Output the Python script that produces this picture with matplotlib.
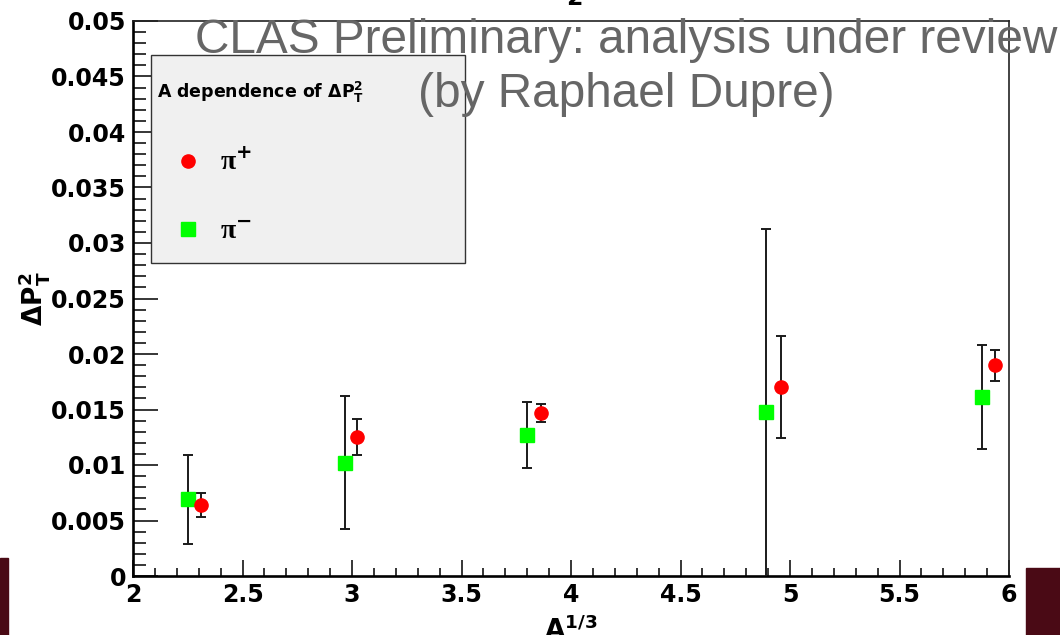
import matplotlib
matplotlib.use("Agg")
import matplotlib.pyplot as plt
from matplotlib.lines import Line2D
from matplotlib.patches import Rectangle
from matplotlib.ticker import MultipleLocator, FuncFormatter

# data
a13_pip = [2.310, 3.023, 3.863, 4.959, 5.936]
dpt2_pip = [0.0064, 0.0125, 0.0147, 0.0170, 0.0190]
err_pip = [0.00104, 0.0016, 0.0008, 0.0046, 0.0014]

a13_pim = [2.251, 2.968, 3.799, 4.890, 5.877]
dpt2_pim = [0.0069, 0.0102, 0.0127, 0.0148, 0.0161]
err_pim = [0.0040, 0.0060, 0.0030, 0.0165, 0.0047]

labels = [r"π$^{\mathbf{+}}$", r"π$^{\mathbf{-}}$"]

plt.rcParams["font.family"] = "DejaVu Sans"
plt.rcParams["font.weight"] = "bold"
plt.rcParams["mathtext.fontset"] = "dejavusans"

W, H = 1060, 635
fig = plt.figure(figsize=(W / 100, H / 100), dpi=100)
L, R, T, B = 133, 1009, 21, 576
ax = fig.add_axes([L / W, 1 - B / H, (R - L) / W, (B - T) / H])

# dark red page decoration in the corners
fig.patches.append(Rectangle((0, 0), 8 / W, (H - 558) / H, transform=fig.transFigure,
                             color="#4a0a15", zorder=0))
fig.patches.append(Rectangle((1026 / W, 0), 34 / W, (H - 568) / H, transform=fig.transFigure,
                             color="#4a0a15", zorder=0))

ax.errorbar(a13_pim, dpt2_pim, yerr=err_pim, fmt="s", color="#00ff00", ms=10,
            ecolor="#1a1a1a", elinewidth=1.4, capsize=3.3, capthick=1.4, zorder=3)
ax.errorbar(a13_pip, dpt2_pip, yerr=err_pip, fmt="o", color="#ff0000", ms=9.5,
            ecolor="#1a1a1a", elinewidth=1.4, capsize=3.3, capthick=1.4, zorder=3)

ax.set_xlim(2, 6)
ax.set_ylim(0, 0.05)

ax.xaxis.set_major_locator(MultipleLocator(0.5))
ax.xaxis.set_minor_locator(MultipleLocator(0.1))
ax.yaxis.set_major_locator(MultipleLocator(0.005))
ax.yaxis.set_minor_locator(MultipleLocator(0.001))
fmt = FuncFormatter(lambda v, p: f"{round(v, 4):g}")
ax.xaxis.set_major_formatter(fmt)
ax.yaxis.set_major_formatter(fmt)

ax.tick_params(axis="both", which="both", direction="in", top=False, right=False,
               width=1.1, color="black", labelsize=17)
ax.tick_params(axis="y", which="major", length=18, pad=5)
ax.tick_params(axis="y", which="minor", length=9.4)
ax.tick_params(axis="x", which="major", length=11.5, pad=5)
ax.tick_params(axis="x", which="minor", length=5.8)

for s in ["left", "bottom"]:
    ax.spines[s].set_linewidth(1.9)
for s in ["top", "right"]:
    ax.spines[s].set_linewidth(1.2)
    ax.spines[s].set_color("#222222")

ax.set_xlabel(r"$\mathbf{A}^{\mathbf{1/3}}$", fontsize=19, labelpad=7)
ax.set_ylabel(r"$\Delta\mathbf{P}_{\mathbf{T}}^{\mathbf{2}}$", fontsize=19)
ax.yaxis.set_label_coords((52 - L) / (R - L), 0.5)

# legend box
ax.add_patch(Rectangle(((151 - L) / (R - L), (B - 263) / (B - T)), 314 / (R - L), 208 / (B - T),
                       transform=ax.transAxes, facecolor="#f0f0f0", edgecolor="#333333",
                       lw=1.0, zorder=4))
handles = [Line2D([], [], ls="none", marker="o", color="#ff0000", ms=9.5),
           Line2D([], [], ls="none", marker="s", color="#00ff00", ms=10)]
leg = ax.legend(handles, labels, loc="upper left",
                bbox_to_anchor=((157 - L) / (R - L), (B - 80) / (B - T)),
                frameon=False, borderpad=0, borderaxespad=0,
                prop={"family": "Liberation Serif", "weight": "bold", "size": 20},
                handlelength=2.2, handletextpad=0.05, labelspacing=1.56,
                title=r"A dependence of $\Delta\mathbf{P}_{\mathbf{T}}^{\mathbf{2}}$",
                title_fontproperties={"size": 12.5, "weight": "bold"}, alignment="left")
leg.set_zorder(5)
for t in leg.get_texts():
    t.set_math_fontfamily("dejavusans")

# title remnant at the top edge
fig.text(574 / W, 1 - 5 / H, "2", ha="center", va="baseline", fontsize=17, fontweight="bold")

# overlay text
fig.text(626 / W, 1 - 53 / H, "CLAS Preliminary: analysis under review", ha="center",
         va="baseline", fontsize=34.4, color="#666666", family="Liberation Sans",
         fontweight="normal", zorder=10)
fig.text(626 / W, 1 - 107 / H, "(by Raphael Dupre)", ha="center",
         va="baseline", fontsize=34.4, color="#666666", family="Liberation Sans",
         fontweight="normal", zorder=10)

fig.savefig("out.png", dpi=100)
